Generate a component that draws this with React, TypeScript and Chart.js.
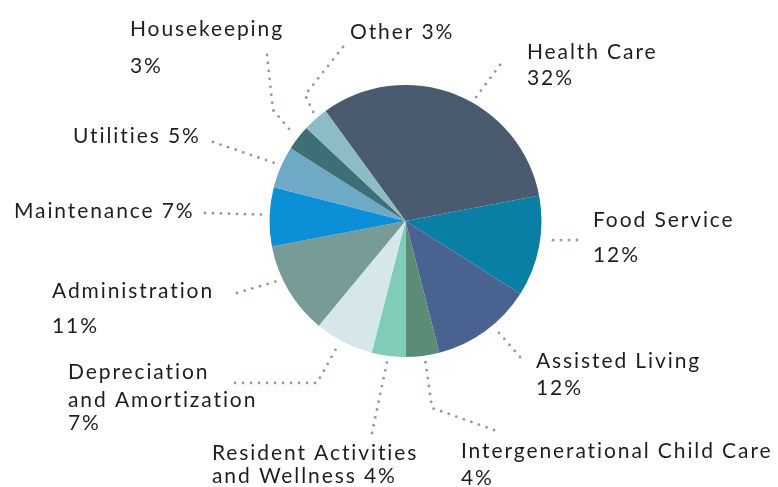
import React, { useEffect, useRef } from "react";
import { Chart, registerables } from "chart.js";

Chart.register(...registerables);

const categories = [
  "Health Care",
  "Food Service",
  "Assisted Living",
  "Intergenerational Child Care",
  "Resident Activities and Wellness",
  "Depreciation and Amortization",
  "Administration",
  "Maintenance",
  "Utilities",
  "Housekeeping",
  "Other",
];

const shares = [32, 12, 12, 4, 4, 7, 11, 7, 5, 3, 3];

const sliceColors = [
  "#4b5b6f",
  "#0a7fa6",
  "#4a6290",
  "#5a8c78",
  "#7fcdb6",
  "#d6e7ec",
  "#779c97",
  "#0b8fd6",
  "#6ea9c6",
  "#3f6f76",
  "#8cbcc6",
];

const labelLines = [
  ["Health Care", "32%"],
  ["Food Service", "12%"],
  ["Assisted Living", "12%"],
  ["Intergenerational Child Care", "4%"],
  ["Resident Activities", "and Wellness 4%"],
  ["Depreciation", "and Amortization", "7%"],
  ["Administration", "11%"],
  ["Maintenance 7%"],
  ["Utilities 5%"],
  ["Housekeeping", "3%"],
  ["Other 3%"],
];

// label layout: text left x, baselines, leader outer points, where the leader meets the slice (fraction of slice)
const labelLayout = [
  { x: 527, ys: [59, 85], path: [[500, 65]], frac: 0.57 },
  { x: 593, ys: [227, 262], path: [[577, 240]], frac: 0.43 },
  { x: 536, ys: [368, 395], path: [[520, 357]], frac: 0.41 },
  { x: 461, ys: [458, 485], path: [[494, 430], [432, 408]], frac: 0.44 },
  { x: 212, ys: [460, 483], path: [[372, 433]], frac: 0.52 },
  { x: 68, ys: [379, 407, 430], path: [[235, 383], [317, 383]], frac: 0.56 },
  { x: 52, ys: [298, 333], path: [[237, 293]], frac: 0.64 },
  { x: 14, ys: [218], path: [[205, 213]], frac: 0.53 },
  { x: 73, ys: [143], path: [[213, 142]], frac: 0.53 },
  { x: 130, ys: [36, 73], path: [[267, 55], [273, 110]], frac: 0.5 },
  { x: 350, ys: [39], path: [[343, 47], [305, 95]], frac: 0.6 },
];

function dottedPath(ctx: CanvasRenderingContext2D, pts: number[][]) {
  const step = 8;
  let carry = 0;
  ctx.fillStyle = "#8a9d9d";
  for (let i = 0; i < pts.length - 1; i++) {
    const [x0, y0] = pts[i];
    const [x1, y1] = pts[i + 1];
    const len = Math.hypot(x1 - x0, y1 - y0);
    let d = carry;
    while (d <= len) {
      const t = d / len;
      ctx.beginPath();
      ctx.arc(x0 + (x1 - x0) * t, y0 + (y1 - y0) * t, 1.4, 0, Math.PI * 2);
      ctx.fill();
      d += step;
    }
    carry = d - len;
  }
}

const labelPlugin = {
  id: "pieLabels",
  afterDraw(chart: any) {
    const ctx: CanvasRenderingContext2D = chart.ctx;
    const meta = chart.getDatasetMeta(0);
    ctx.save();
    meta.data.forEach((arc: any, i: number) => {
      const p = arc.getProps(["x", "y", "startAngle", "endAngle", "outerRadius"], true);
      const lay = labelLayout[i];
      const a = p.startAngle + lay.frac * (p.endAngle - p.startAngle);
      const r = p.outerRadius + 6;
      const end = [p.x + Math.cos(a) * r, p.y + Math.sin(a) * r];
      dottedPath(ctx, [...lay.path, end]);
      ctx.fillStyle = "#1e1e1e";
      ctx.font = "400 21px Lato, 'DejaVu Sans', sans-serif";
      (ctx as any).letterSpacing = "1.9px";
      ctx.textAlign = "left";
      ctx.textBaseline = "alphabetic";
      labelLines[i].forEach((line, j) => {
        ctx.fillText(line, lay.x, lay.ys[j]);
      });
      (ctx as any).letterSpacing = "0px";
    });
    ctx.restore();
  },
};

export default function App() {
  const ref = useRef<HTMLCanvasElement | null>(null);
  useEffect(() => {
    document.body.style.margin = "0";
    if (!ref.current) return;
    const chart = new Chart(ref.current, {
      type: "pie",
      data: {
        labels: categories,
        datasets: [
          {
            data: shares,
            backgroundColor: sliceColors,
            borderWidth: 0,
          },
        ],
      },
      options: {
        responsive: false,
        animation: false,
        rotation: -36,
        layout: { padding: { left: 269.5, right: 236.5, top: 85, bottom: 130 } },
        plugins: {
          legend: { display: false },
          tooltip: { enabled: false },
        },
      },
      plugins: [labelPlugin],
    });
    return () => chart.destroy();
  }, []);
  return (
    <div style={{ width: 778, height: 487, background: "#fff" }}>
      <canvas ref={ref} width={778} height={487} />
    </div>
  );
}
